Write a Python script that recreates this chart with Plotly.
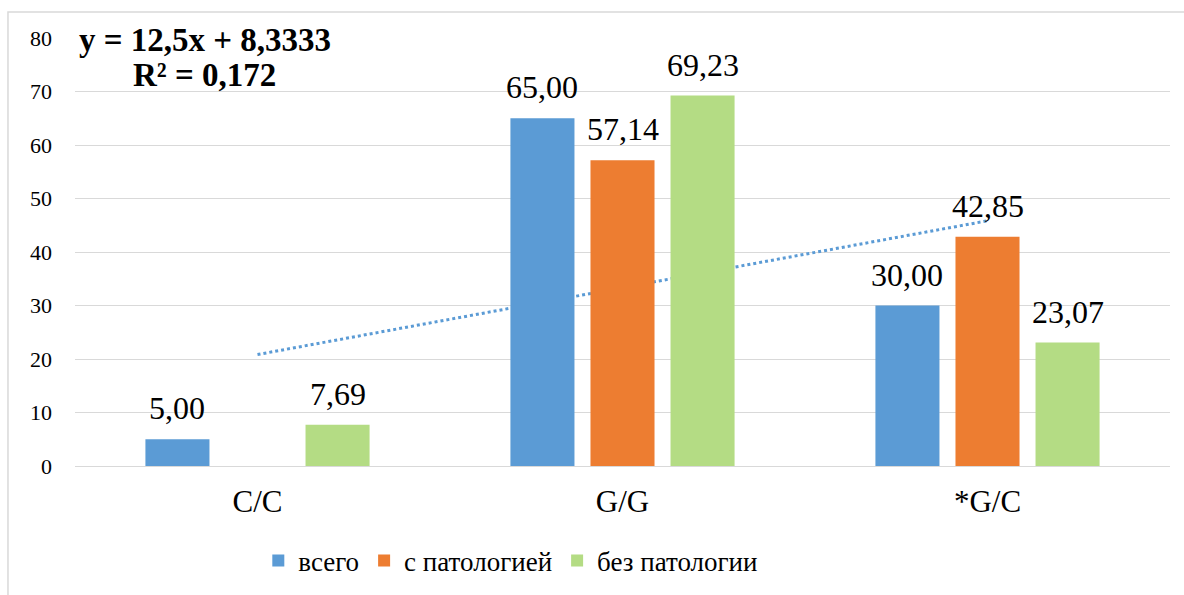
import plotly.graph_objects as go

# Genotype groups and series values (%)
categories = ["C/C", "G/G", "*G/C"]
series_names = ["всего", "с патологией", "без патологии"]
vals_total = [5.00, 65.00, 30.00]
vals_patho = [None, 57.14, 42.85]
vals_healthy = [7.69, 69.23, 23.07]

# Linear trend of the "всего" series (Excel-style x = 1, 2, 3)
trend_slope = 12.5
trend_intercept = 8.3333
trend_r2 = 0.172

colors = ["#5B9BD5", "#ED7D31", "#B4DC84"]
font_family = "Liberation Serif"
bar_gap = 0.342
n_series = len(series_names)


def comma(num):
    return str(num).replace(".", ",")


fig = go.Figure()
all_vals = [vals_total, vals_patho, vals_healthy]
for name, vals, col in zip(series_names, all_vals, colors):
    fig.add_trace(go.Bar(
        x=categories, y=vals, name=name,
        marker=dict(color=col, line=dict(width=0)),
    ))

# Value labels above each bar, in the same grouped slot as the bar
slot = (1 - bar_gap) / n_series
for j, vals in enumerate(all_vals):
    for i, v in enumerate(vals):
        if v is None:
            continue
        fig.add_annotation(
            x=i + (j - (n_series - 1) / 2) * slot, y=v, xref="x", yref="y",
            text=f"{v:.2f}".replace(".", ","), showarrow=False,
            xanchor="center", yanchor="bottom", yshift=11,
            font=dict(family=font_family, size=32, color="#000000"),
        )

# Trend line drawn behind the bars
x0_idx, x1_idx = 0, len(categories) - 1
fig.add_shape(
    type="line", xref="x", yref="y", layer="between",
    x0=x0_idx, x1=x1_idx,
    y0=trend_slope * (x0_idx + 1) + trend_intercept,
    y1=trend_slope * (x1_idx + 1) + trend_intercept,
    line=dict(color="#5B9BD5", width=3, dash="dot"),
)

# Outer chart frame
fig.add_shape(
    type="rect", xref="paper", yref="paper", layer="below",
    x0=-0.0612, x1=1.1, y0=-0.4, y1=1.0607,
    line=dict(color="#D9D9D9", width=1.5), fillcolor="rgba(0,0,0,0)",
)

# Trend equation and R²
eq_lines = [f"y = {comma(trend_slope)}x + {comma(trend_intercept)}", f"R² = {comma(trend_r2)}"]
for line_text, ypos in zip(eq_lines, [0.995, 0.9136]):
    fig.add_annotation(
        xref="paper", yref="paper", x=0.1187, y=ypos, xanchor="center", yanchor="middle",
        text=f"<b>{line_text}</b>", showarrow=False,
        font=dict(family=font_family, size=33, color="#000000"),
    )

fig.update_layout(
    width=1184, height=595,
    margin=dict(l=75, r=14, t=38, b=129, autoexpand=False),
    paper_bgcolor="#FFFFFF", plot_bgcolor="#FFFFFF",
    separators=", ",
    barmode="group", bargap=bar_gap, bargroupgap=0.2,
    showlegend=True,
    legend=dict(
        orientation="h", x=0.398, y=-0.222, xanchor="center", yanchor="middle",
        font=dict(family=font_family, size=27, color="#000000"),
    ),
    font=dict(family=font_family, color="#000000"),
)
fig.update_xaxes(
    showgrid=False, showline=False, zeroline=False, automargin=False,
    tickfont=dict(family=font_family, size=31, color="#000000"),
    ticklabelstandoff=14,
)
fig.update_yaxes(
    range=[0, 80], dtick=10, showgrid=True, gridcolor="#D9D9D9", gridwidth=1,
    zeroline=True, zerolinecolor="#D9D9D9", zerolinewidth=1, showline=False,
    automargin=False,
    tickfont=dict(family=font_family, size=22, color="#000000"),
    ticklabelstandoff=22,
)

fig.write_html("out.html")
